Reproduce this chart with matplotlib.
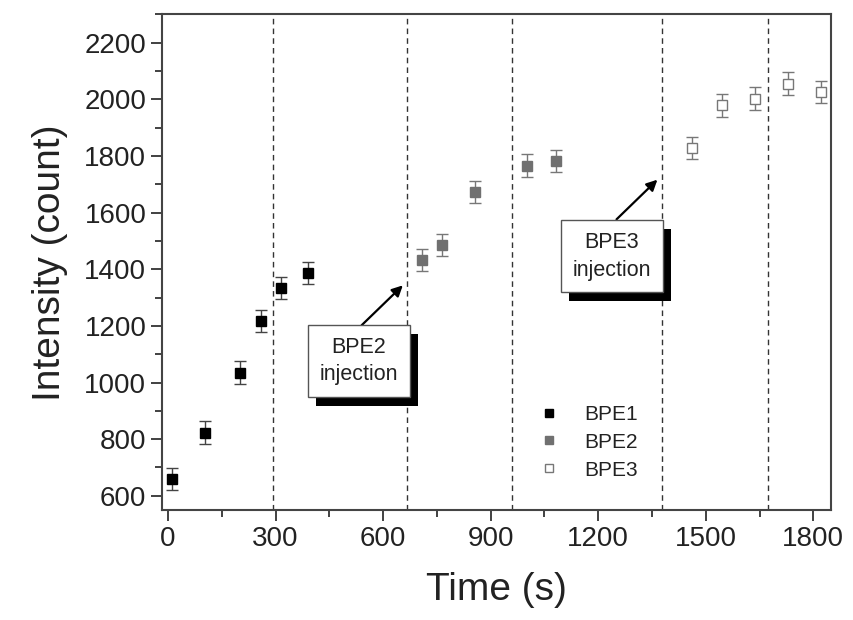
import matplotlib
matplotlib.use("Agg")
import matplotlib.pyplot as plt
import matplotlib.patheffects as pe
from matplotlib.ticker import MultipleLocator

plt.rcParams['font.family'] = ['Liberation Sans', 'DejaVu Sans']

# data
t1 = [10, 102, 202, 259, 316, 390]
i1 = [659, 823, 1035, 1217, 1334, 1386]
t2 = [709, 764, 855, 1000, 1082]
i2 = [1432, 1485, 1672, 1765, 1782]
t3 = [1462, 1545, 1637, 1730, 1820]
i3 = [1828, 1978, 2002, 2055, 2026]
err = 40
vlines = [292, 666, 960, 1377, 1674]

fig = plt.figure(figsize=(8.54, 6.2), dpi=100)
ax = fig.add_axes([0.19, 0.177, 0.783, 0.8])

ink = '#222222'
for v in vlines:
    ax.axvline(v, color='#333333', lw=1.0, dashes=(4, 3), zorder=1)

ax.errorbar(t1, i1, yerr=err, fmt='none', ecolor='#444444', elinewidth=1, capsize=4, capthick=1, zorder=2)
ax.errorbar(t2, i2, yerr=err, fmt='none', ecolor='#777777', elinewidth=1, capsize=4, capthick=1, zorder=2)
ax.errorbar(t3, i3, yerr=err, fmt='none', ecolor='#777777', elinewidth=1, capsize=4, capthick=1, zorder=2)

ax.plot(t1, i1, 's', ms=7.5, mfc='black', mec='black', label='BPE1', zorder=3)
ax.plot(t2, i2, 's', ms=7.5, mfc='#707070', mec='#707070', label='BPE2', zorder=3)
ax.plot(t3, i3, 's', ms=7.5, mfc='white', mec='#777777', mew=1, label='BPE3', zorder=3)

ax.set_xlim(-16, 1849)
ax.set_ylim(549, 2300)
ax.set_xticks([0, 300, 600, 900, 1200, 1500, 1800])
ax.set_yticks(range(600, 2201, 200))
ax.xaxis.set_minor_locator(MultipleLocator(150))
ax.yaxis.set_minor_locator(MultipleLocator(100))
ax.tick_params(which='both', direction='out', top=False, right=False, width=1.3, colors='#333333', labelcolor=ink, labelsize=20)
ax.tick_params(which='major', length=8)
ax.tick_params(which='minor', length=5)
for s in ax.spines.values():
    s.set_linewidth(1.5)
    s.set_color('#444444')

ax.set_xlabel('Time (s)', fontsize=28, color=ink, labelpad=14)
ax.set_ylabel('Intensity (count)', fontsize=28, color=ink, labelpad=12)

leg = ax.legend(loc='upper left', bbox_to_anchor=(0.535, 0.25), frameon=False, fontsize=15,
                handlelength=1.0, handletextpad=1.2, labelspacing=0.42, markerscale=0.8, labelcolor=ink)

# injection callouts with drop shadow
notes = [('BPE2\ninjection', (532, 1075), (540, 1202), (655, 1343)),
         ('BPE3\ninjection', (1238, 1445), (1251, 1576), (1365, 1716))]
for txt, centre, start, tip in notes:
    tb = ax.text(centre[0], centre[1], txt, ha='center', va='center', fontsize=15.5, color=ink,
                 linespacing=1.4, zorder=5,
                 bbox=dict(boxstyle='square,pad=0.55', fc='white', ec='#555555', lw=1))
    tb.get_bbox_patch().set_path_effects([
        pe.SimplePatchShadow(offset=(6, -6), shadow_rgbFace='black', alpha=1.0), pe.Normal()])
    ax.annotate('', xy=tip, xytext=start, zorder=4,
                arrowprops=dict(arrowstyle='-|>', color='black', lw=1.6, mutation_scale=16, shrinkA=0, shrinkB=0))

fig.savefig('out.png', dpi=100)
